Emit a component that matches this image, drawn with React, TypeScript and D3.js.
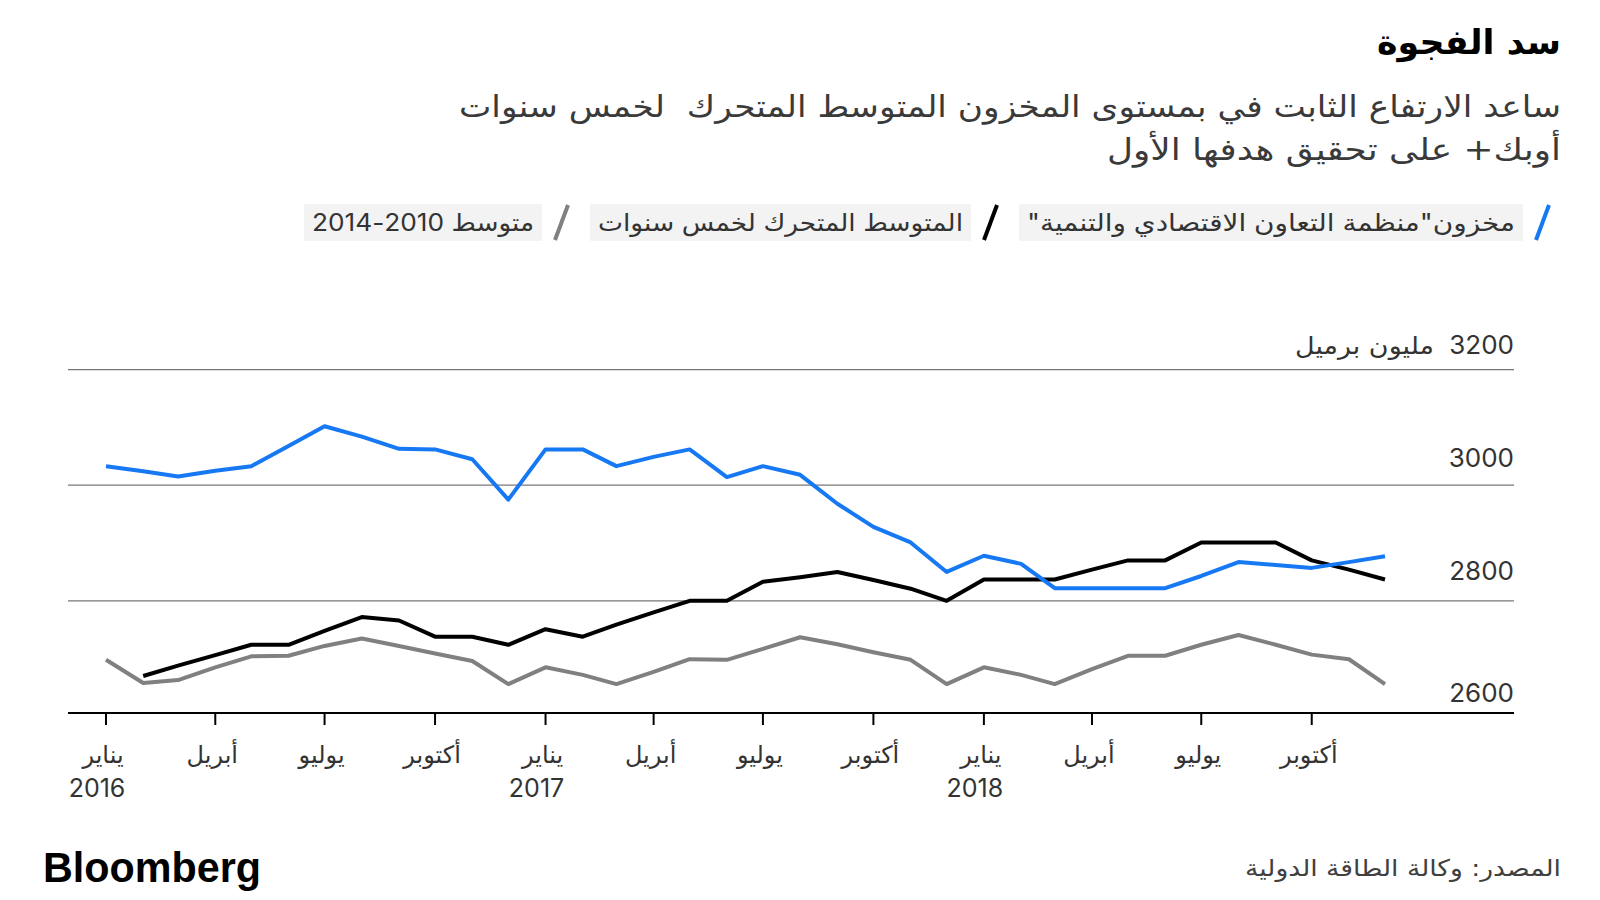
import * as d3 from "d3";

const title = "سد الفجوة";
const subtitleLines = [
  "ساعد الارتفاع الثابت في بمستوى المخزون المتوسط المتحرك  لخمس سنوات",
  "أوبك+ على تحقيق هدفها الأول",
];
const seriesNames = [
  'مخزون"منظمة التعاون الاقتصادي والتنمية"',
  "المتوسط المتحرك لخمس سنوات",
  "متوسط 2010-2014",
];
const unitLabel = "مليون برميل";
const sourceText = "المصدر: وكالة الطاقة الدولية";
const monthNames: Record<number, string> = { 0: "يناير", 3: "أبريل", 6: "يوليو", 9: "أكتوبر" };
const yTicks = [2600, 2800, 3000, 3200];

// monthly, Jan 2016 .. Dec 2018
const months = d3.timeMonths(new Date(2016, 0, 1), new Date(2019, 0, 1));
const oecdStocks = [
  3033, 3024, 3015, 3025, 3033, 3068, 3102, 3084, 3063, 3062, 3045, 2975,
  3062, 3062, 3033, 3049, 3062, 3014, 3033, 3018, 2968, 2928, 2901, 2850,
  2878, 2864, 2822, 2822, 2822, 2822, 2843, 2867, 2862, 2857, 2867, 2877,
];
const fiveYearAvg = [
  null, 2670, 2688, 2706, 2724, 2724, 2748, 2772, 2766, 2738, 2738, 2724,
  2751, 2738, 2759, 2780, 2800, 2800, 2833, 2841, 2850, 2836, 2821, 2800,
  2837, 2837, 2837, 2854, 2870, 2870, 2901, 2901, 2901, 2870, 2854, 2837,
];
const avg2010to2014 = [
  2698, 2658, 2663, 2685, 2704, 2705, 2722, 2735, 2722, 2709, 2696, 2656,
  2685, 2672, 2656, 2677, 2699, 2698, 2717, 2737, 2725, 2711, 2698, 2656,
  2685, 2672, 2656, 2682, 2705, 2705, 2724, 2741, 2724, 2707, 2699, 2656,
];

const colors = ["#1679f3", "#000000", "#808080"];

const AR = "'DejaVu Sans', sans-serif";
const NUM = "Inter, 'DejaVu Sans', sans-serif";
const rtl = (s: string) => "\u202B" + s + "\u202C";

const plot = { left: 68, right: 1514, top: 369.6, bottom: 713 };

export default function App() {
  const x = d3.scaleTime()
    .domain([months[0], months[months.length - 1]])
    .range([106, 1385]);
  const y = d3.scaleLinear()
    .domain([2606, 3200])
    .range([plot.bottom, plot.top]);

  const line = d3.line<[Date, number | null]>()
    .defined(d => d[1] != null)
    .x(d => x(d[0]))
    .y(d => y(d[1] as number));

  const series = [oecdStocks, fiveYearAvg, avg2010to2014];
  const xTicks = x.ticks(d3.timeMonth.every(3)!);

  // legend, laid out right to left
  const legendWidths = [488, 365, 222];
  let cursor = 1549;
  const legend = seriesNames.map((name, i) => {
    const slashTop = cursor;
    const boxRight = slashTop - 26;
    const textRight = boxRight - 8;
    const boxLeft = textRight - legendWidths[i] - 8;
    cursor = boxLeft - 22;
    return { name, color: colors[i], slashTop, boxRight, boxLeft, textRight, w: legendWidths[i] };
  });

  const labelOffset = (t: number) => (t === 2600 ? 0 : 16 + (3200 - t) / 200 * 2.6);

  return (
    <svg width={1600} height={900} style={{ position: "absolute", left: 0, top: 0, background: "#fff" }}>
      <text x={1561} y={54} textAnchor="end" fontFamily={AR} fontWeight={700} fontSize={34} fill="#000"
        textLength={184} lengthAdjust="spacingAndGlyphs">{rtl(title)}</text>
      {subtitleLines.map((s, i) => (
        <text key={i} x={1561} y={117 + i * 43} textAnchor="end" fontFamily={AR} fontSize={30} fill="#3a3a3a"
          textLength={i === 0 ? 1102 : 454} lengthAdjust="spacingAndGlyphs" style={{ whiteSpace: "pre" }}>{rtl(s)}</text>
      ))}

      {legend.map((l, i) => (
        <g key={i}>
          <line x1={l.slashTop} y1={205} x2={l.slashTop - 13} y2={240} stroke={l.color} strokeWidth={4} />
          <rect x={l.boxLeft} y={204} width={l.boxRight - l.boxLeft} height={37} fill="#f3f3f3" />
          <text x={l.textRight} y={231} textAnchor="end" fontFamily={NUM} fontSize={24} fill="#333"
            textLength={l.w} lengthAdjust="spacingAndGlyphs">{rtl(l.name)}</text>
        </g>
      ))}

      {yTicks.filter(t => t > 2600).map(t => (
        <line key={t} x1={plot.left} x2={plot.right} y1={y(t)} y2={y(t)} stroke="#777" strokeWidth={1.2} />
      ))}
      {yTicks.map(t => (
        <text key={t} x={plot.right} y={t === 2600 ? plot.bottom - 11 : y(t) - labelOffset(t)} textAnchor="end"
          fontFamily={NUM} fontSize={26} fill="#333">{t}</text>
      ))}
      <text x={1434} y={y(3200) - 16} textAnchor="end" fontFamily={AR} fontSize={24} fill="#333"
        textLength={139} lengthAdjust="spacingAndGlyphs">{rtl(unitLabel)}</text>

      {series.map((vals, i) => (
        <path key={i} d={line(months.map((m, j) => [m, vals[j]]))!} fill="none" stroke={colors[i]}
          strokeWidth={4} strokeLinejoin="round" strokeLinecap="butt" />
      )).reverse()}

      <line x1={plot.left} x2={plot.right} y1={plot.bottom} y2={plot.bottom} stroke="#000" strokeWidth={2.2} />
      {xTicks.map((t, i) => (
        <g key={i} transform={`translate(${x(t)},0)`}>
          <line y1={plot.bottom} y2={plot.bottom + 12} stroke="#000" strokeWidth={2} />
          <text x={-3} y={763} textAnchor="middle" fontFamily={AR} fontSize={24} fill="#333">{monthNames[t.getMonth()]}</text>
          {t.getMonth() === 0 && (
            <text x={-9} y={797} textAnchor="middle" fontFamily={NUM} fontSize={25} fill="#333">{t.getFullYear()}</text>
          )}
        </g>
      ))}

      <text x={43} y={882} fontFamily="'Liberation Sans', Arial, sans-serif" fontWeight={700} fontSize={42}
        fill="#000" textLength={218} lengthAdjust="spacingAndGlyphs">Bloomberg</text>
      <text x={1561} y={876} textAnchor="end" fontFamily={AR} fontSize={23} fill="#404040"
        textLength={316} lengthAdjust="spacingAndGlyphs">{rtl(sourceText)}</text>
    </svg>
  );
}
